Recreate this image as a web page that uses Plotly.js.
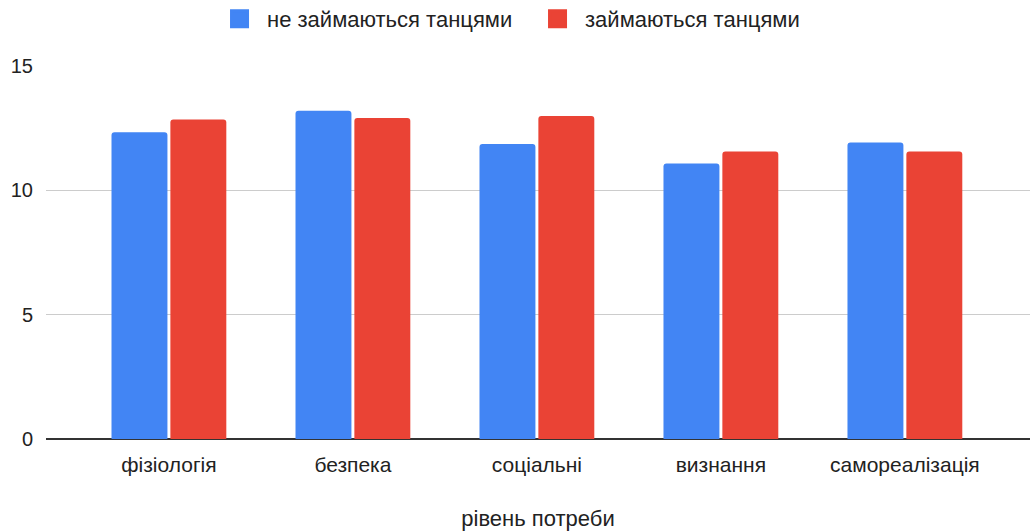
<!DOCTYPE html>
<html>
<head>
<meta charset="utf-8">
<script src="https://cdn.plot.ly/plotly-3.0.1.min.js"></script>
<style>
  html, body { margin: 0; padding: 0; background: #fff; }
  #chart { width: 1030px; height: 531px; }
</style>
</head>
<body>
<div id="chart"></div>
<script>
// Categories (need levels) and the two group means
const categories = ['фізіологія', 'безпека', 'соціальні', 'визнання', 'самореалізація'];
const notDancing = [12.34, 13.2, 11.86, 11.08, 11.92];
const dancing = [12.85, 12.91, 12.99, 11.56, 11.56];
const seriesNames = ['не займаються танцями', 'займаються танцями'];
const seriesColors = ['#4285f4', '#ea4335'];
const yTicks = [0, 5, 10, 15];

const font = '"Liberation Sans", Arial, sans-serif';

const traces = [
  {
    type: 'bar', name: seriesNames[0], x: categories, y: notDancing,
    marker: { color: seriesColors[0] }, showlegend: false
  },
  {
    type: 'bar', name: seriesNames[1], x: categories, y: dancing,
    marker: { color: seriesColors[1] }, showlegend: false
  },
  // square legend keys
  {
    type: 'scatter', mode: 'markers', name: seriesNames[0], x: [null], y: [null],
    marker: { symbol: 'square', size: 16, color: seriesColors[0], line: { color: seriesColors[0], width: 3 } }
  },
  {
    type: 'scatter', mode: 'markers', name: seriesNames[1], x: [null], y: [null],
    marker: { symbol: 'square', size: 16, color: seriesColors[1], line: { color: seriesColors[1], width: 3 } }
  }
];

const layout = {
  width: 1030, height: 531,
  margin: { l: 46, r: 0, t: 66, b: 92, autoexpand: false },
  paper_bgcolor: '#fff', plot_bgcolor: '#fff',
  font: { family: font, size: 21, color: '#222' },
  barmode: 'group',
  bargap: 0.36,
  bargroupgap: 0.05,
  barcornerradius: 3,
  showlegend: true,
  legend: {
    orientation: 'h', x: 0.4919, xanchor: 'center', y: 1.126, yanchor: 'middle',
    font: { family: font, size: 22, color: '#222' },
    itemwidth: 45, entrywidth: 258, tracegroupgap: 0
  },
  xaxis: {
    type: 'category',
    range: [-0.668, 4.68],
    tickfont: { family: font, size: 21, color: '#222' },
    ticks: '', showgrid: false, showline: false, zeroline: false,
    ticklabelstandoff: 11,
    title: { text: 'рівень потреби', font: { family: font, size: 22, color: '#222' }, standoff: 40 }
  },
  yaxis: {
    range: [0, 15],
    tickvals: yTicks,
    ticktext: yTicks.map(String),
    tickfont: { family: font, size: 20, color: '#222' },
    ticks: '', ticklen: 0,
    ticklabelstandoff: 12,
    showgrid: true, gridcolor: '#cccccc', gridwidth: 1,
    zeroline: true, zerolinecolor: '#333', zerolinewidth: 1.5,
    showline: false
  }
};

Plotly.newPlot('chart', traces, layout, { displayModeBar: false, staticPlot: true });
</script>
</body>
</html>
